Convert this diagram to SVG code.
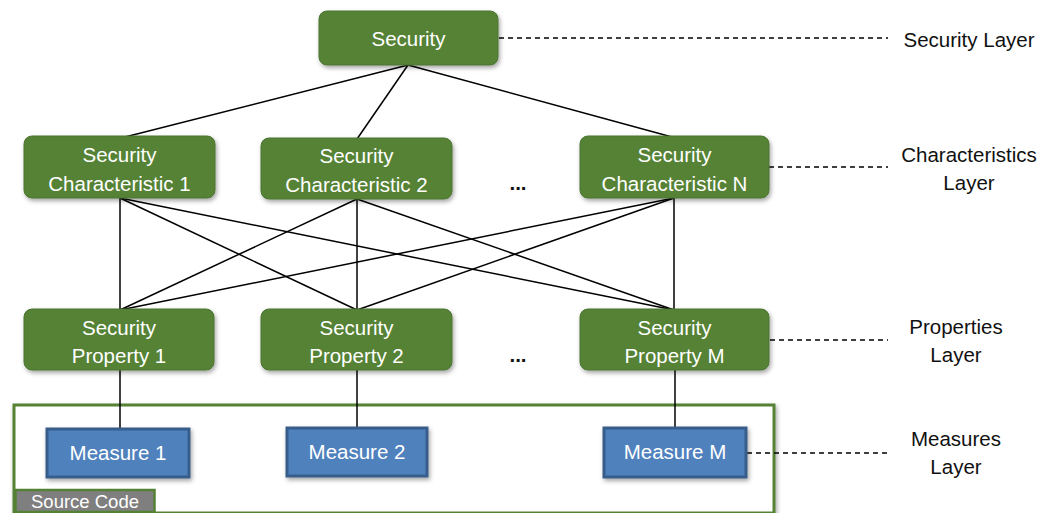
<svg xmlns="http://www.w3.org/2000/svg" width="1054" height="513" viewBox="0 0 1054 513">
<defs>
<filter id="sh" x="-10%" y="-10%" width="130%" height="140%">
<feDropShadow dx="1.5" dy="2.5" stdDeviation="2" flood-color="#000" flood-opacity="0.35"/>
</filter>
<style>
.g{fill:#548235;stroke:#4a7530;stroke-width:1;filter:url(#sh)}
.b{fill:#4f81bd;stroke:#385d8a;stroke-width:3;filter:url(#sh)}
.t{font-family:"Liberation Sans",Arial,sans-serif;font-size:20.5px;fill:#fff;text-anchor:middle}
.l{font-family:"Liberation Sans",Arial,sans-serif;font-size:20.5px;fill:#111;text-anchor:middle}
.c{stroke:#000;stroke-width:1.5;fill:none}
.d{stroke:#000;stroke-width:1.3;fill:none;stroke-dasharray:5 4}
</style>
</defs>
<rect width="1054" height="513" fill="#fff"/>

<g id="source-code">
<rect x="14" y="405" width="760" height="108" fill="#fff" stroke="#548235" stroke-width="3" filter="url(#sh)"/>
<rect x="15.5" y="490" width="139" height="22" fill="#7f7f7f" stroke="#548235" stroke-width="2.5"/>
<text x="85" y="508" style="font-family:'Liberation Sans',Arial,sans-serif;font-size:18.5px;fill:#fff;text-anchor:middle">Source Code</text>
</g>

<g id="connectors">
<line class="c" x1="408" y1="65" x2="125" y2="137"/>
<line class="c" x1="408" y1="65" x2="357" y2="139"/>
<line class="c" x1="408" y1="65" x2="672" y2="137"/>
<line class="c" x1="120" y1="198" x2="120" y2="310"/>
<line class="c" x1="120" y1="198" x2="357" y2="310"/>
<line class="c" x1="120" y1="198" x2="674" y2="310"/>
<line class="c" x1="357" y1="199" x2="120" y2="310"/>
<line class="c" x1="357" y1="199" x2="357" y2="310"/>
<line class="c" x1="357" y1="199" x2="674" y2="310"/>
<line class="c" x1="674" y1="198" x2="120" y2="310"/>
<line class="c" x1="674" y1="198" x2="357" y2="310"/>
<line class="c" x1="674" y1="198" x2="674" y2="310"/>
<line class="c" x1="120" y1="370" x2="120" y2="430"/>
<line class="c" x1="357" y1="370" x2="357" y2="429"/>
<line class="c" x1="675" y1="370" x2="675" y2="429"/>
<line class="d" x1="499" y1="38" x2="888" y2="38"/>
<line class="d" x1="769" y1="167" x2="888" y2="167"/>
<line class="d" x1="770" y1="340" x2="888" y2="340"/>
<line class="d" x1="747" y1="453" x2="888" y2="453"/>
</g>

<g id="security">
<rect class="g" x="319" y="11" width="179" height="54" rx="8"/>
<text class="t" x="408.5" y="46">Security</text>
</g>

<g id="char1">
<rect class="g" x="24" y="136" width="191" height="62" rx="8"/>
<text class="t" x="119.5" y="162">Security</text>
<text class="t" x="119.5" y="191">Characteristic 1</text>
</g>
<g id="char2">
<rect class="g" x="261" y="138" width="191" height="61" rx="8"/>
<text class="t" x="356.5" y="163">Security</text>
<text class="t" x="356.5" y="192">Characteristic 2</text>
</g>
<g id="dots1"><text class="l" x="518" y="190" style="font-weight:bold">...</text></g>
<g id="charN">
<rect class="g" x="580" y="136" width="189" height="62" rx="8"/>
<text class="t" x="674.5" y="162">Security</text>
<text class="t" x="674.5" y="191">Characteristic N</text>
</g>

<g id="prop1">
<rect class="g" x="24" y="309" width="190" height="61" rx="8"/>
<text class="t" x="119" y="335">Security</text>
<text class="t" x="119" y="363">Property 1</text>
</g>
<g id="prop2">
<rect class="g" x="261" y="309" width="191" height="61" rx="8"/>
<text class="t" x="356.5" y="335">Security</text>
<text class="t" x="356.5" y="363">Property 2</text>
</g>
<g id="dots2"><text class="l" x="518" y="362" style="font-weight:bold">...</text></g>
<g id="propM">
<rect class="g" x="580" y="309" width="189" height="61" rx="8"/>
<text class="t" x="674.5" y="335">Security</text>
<text class="t" x="674.5" y="363">Property M</text>
</g>

<g id="measure1">
<rect class="b" x="47" y="429" width="142" height="48"/>
<text class="t" x="118" y="460">Measure 1</text>
</g>
<g id="measure2">
<rect class="b" x="287" y="428" width="140" height="48"/>
<text class="t" x="357" y="459">Measure 2</text>
</g>
<g id="measureM">
<rect class="b" x="604" y="428" width="142" height="49"/>
<text class="t" x="675" y="459">Measure M</text>
</g>

<g id="labels">
<text class="l" x="969" y="47">Security Layer</text>
<text class="l" x="969" y="162">Characteristics</text>
<text class="l" x="969" y="190">Layer</text>
<text class="l" x="956" y="334">Properties</text>
<text class="l" x="956" y="362">Layer</text>
<text class="l" x="956" y="446">Measures</text>
<text class="l" x="956" y="474">Layer</text>
</g>
</svg>
